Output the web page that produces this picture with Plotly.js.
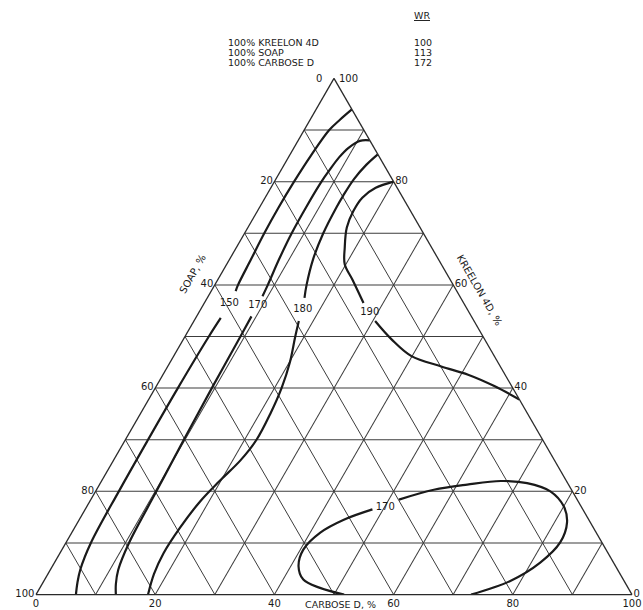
<!DOCTYPE html>
<html>
<head>
<meta charset="utf-8">
<script src="https://cdn.plot.ly/plotly-3.0.1.min.js"></script>
<style>
  html, body { margin:0; padding:0; background:#fff; }
  #chart { width:643px; height:610px; }
</style>
</head>
<body>
<div id="chart"></div>
<script>
// ---- grid every 10%, labels every 20% ----
// each edge is labelled with the component that grows along it (counter-clockwise),
// which at the edge is always 100 - the plotly axis value
const gridVals = [0, 10, 20, 30, 40, 50, 60, 70, 80, 90, 100];
const gridText = ["100", "", "80", "", "60", "", "40", "", "20", "", "0"];
// the apex pair is written by hand further down so the two labels don't collide
const leftText = ["100", "", "80", "", "60", "", "40", "", "20", "", ""];
const rightText = ["", "", "80", "", "60", "", "40", "", "20", "", "0"];

// ---- WR contours (Kreelon 4D = a, Soap = b, Carbose D = c) ----
// WR 150, above and below its label
const wr150TopK = [94.0, 92.0, 90.0, 85.0, 80.0, 75.0, 70.0, 65.0, 60.0, 58.8];
const wr150TopS = [0.0, 3.0, 5.8, 11.4, 16.7, 21.8, 26.7, 31.4, 36.1, 37.1];
const wr150TopC = [6.0, 5.0, 4.2, 3.6, 3.3, 3.2, 3.3, 3.6, 3.9, 4.1];
const wr150LowK = [53.6, 50.0, 40.0, 30.0, 20.0, 10.0, 4.9, 2.3, 0.0];
const wr150LowS = [42.2, 46.0, 56.2, 66.2, 76.1, 85.8, 90.1, 91.9, 93.3];
const wr150LowC = [4.2, 4.0, 3.8, 3.8, 3.9, 4.2, 5.0, 5.8, 6.7];

// WR 170 (left family)
const wr170TopK = [88.0, 87.9, 86.6, 84.7, 82.0, 80.0, 75.0, 70.0, 65.0, 60.0, 57.8];
const wr170TopS = [0.0, 1.7, 4.2, 6.8, 9.9, 12.1, 17.2, 22.1, 26.7, 31.1, 33.1];
const wr170TopC = [12.0, 10.4, 9.2, 8.5, 8.1, 7.9, 7.8, 7.9, 8.3, 8.9, 9.1];
const wr170LowK = [53.9, 50.0, 40.0, 30.0, 20.0, 10.0, 4.8, 2.0, 0.0];
const wr170LowS = [36.9, 40.7, 50.5, 60.2, 69.8, 79.4, 83.8, 85.6, 86.6];
const wr170LowC = [9.2, 9.3, 9.5, 9.8, 10.2, 10.6, 11.4, 12.4, 13.4];

// WR 180
const wr180TopK = [85.3, 83.3, 80.5, 77.3, 75.0, 70.0, 65.0, 60.0, 57.5];
const wr180TopS = [0.0, 2.9, 6.4, 9.8, 12.1, 16.8, 21.0, 24.6, 26.2];
const wr180TopC = [14.7, 13.8, 13.1, 12.9, 12.9, 13.2, 14.0, 15.4, 16.3];
const wr180LowK = [53.0, 50.0, 45.0, 40.0, 35.0, 30.0, 26.0, 22.0, 18.0, 13.0, 8.0, 4.0, 0.0];
const wr180LowS = [29.4, 31.5, 34.9, 38.8, 43.2, 48.0, 52.7, 58.2, 63.5, 69.3, 74.6, 78.2, 81.2];
const wr180LowC = [17.6, 18.5, 20.1, 21.2, 21.8, 22.0, 21.3, 19.8, 18.5, 17.7, 17.4, 17.8, 18.8];

// WR 190
const wr190TopK = [80.0, 78.8, 76.9, 74.3, 71.1, 67.2, 64.0, 61.0, 56.5];
const wr190TopS = [0.0, 3.6, 6.8, 9.6, 12.3, 14.6, 16.2, 16.4, 16.8];
const wr190TopC = [20.0, 17.6, 16.3, 16.1, 16.6, 18.2, 19.8, 22.6, 26.7];
const wr190LowK = [53.0, 49.4, 46.2, 44.2, 42.6, 40.4, 37.8];
const wr190LowS = [16.6, 15.6, 13.9, 9.9, 6.2, 2.9, 0.0];
const wr190LowC = [30.4, 35.0, 39.9, 45.9, 51.2, 56.7, 62.2];

// WR 170 closed loop near the Carbose corner
const wr170bRightK = [0.0, 2.6, 6.2, 10.1, 14.0, 17.1, 20.0, 21.6, 22.0, 21.3, 20.3, 18.4];
const wr170bRightS = [27.0, 19.2, 12.3, 7.0, 3.9, 2.9, 3.7, 6.8, 11.0, 17.0, 23.1, 29.9];
const wr170bRightC = [73.0, 78.2, 81.5, 82.9, 82.1, 80.0, 76.3, 71.6, 67.0, 61.7, 56.6, 51.7];
const wr170bLeftK = [16.5, 14.5, 12.0, 8.7, 5.5, 2.9, 1.3, 0.0];
const wr170bLeftS = [35.3, 41.1, 46.3, 50.8, 53.2, 53.7, 51.7, 48.3];
const wr170bLeftC = [48.2, 44.4, 41.7, 40.5, 41.3, 43.4, 47.0, 51.7];

// contour labels
const labelText = ["150", "170", "180", "190", "170"];
const labelK = [56.3, 56.0, 55.3, 54.6, 16.8];
const labelS = [39.4, 34.8, 27.6, 16.7, 33.0];
const labelC = [4.3, 9.2, 17.1, 28.7, 50.2];

// pure-component WR values (header)
const pureNames = ["100% KREELON 4D", "100% SOAP", "100% CARBOSE D"];
const pureWR = ["100", "113", "172"];

const INK = "#1a1a1a";
const FONT = "DejaVu Sans, sans-serif";

function contour(k, s, c){
  return {
    type: "scatterternary", mode: "lines",
    a: k, b: s, c: c,
    line: { color: INK, width: 2.2, shape: "spline", smoothing: 1 },
    hoverinfo: "skip"
  };
}

const traces = [
  contour(wr150TopK, wr150TopS, wr150TopC),
  contour(wr150LowK, wr150LowS, wr150LowC),
  contour(wr170TopK, wr170TopS, wr170TopC),
  contour(wr170LowK, wr170LowS, wr170LowC),
  contour(wr180TopK, wr180TopS, wr180TopC),
  contour(wr180LowK, wr180LowS, wr180LowC),
  contour(wr190TopK, wr190TopS, wr190TopC),
  contour(wr190LowK, wr190LowS, wr190LowC),
  contour(wr170bRightK, wr170bRightS, wr170bRightC),
  contour(wr170bLeftK, wr170bLeftS, wr170bLeftC),
  {
    type: "scatterternary", mode: "text",
    a: labelK, b: labelS, c: labelC,
    text: labelText, textposition: "middle center",
    textfont: { family: FONT, size: 10, color: INK },
    hoverinfo: "skip"
  }
];

function axisStyle(text){
  return {
    tickmode: "array", tickvals: gridVals, ticktext: text,
    ticks: "", showticklabels: true,
    tickfont: { family: FONT, size: 10, color: INK },
    showgrid: true, gridcolor: "#3c3c3c", gridwidth: 1,
    showline: true, linecolor: "#2a2a2a", linewidth: 1.3,
    title: { text: "" }
  };
}

// page pixel -> paper fraction (plot area is 36..632 x 78..595)
function px(x){ return (x - 36) / 596; }
function py(y){ return (595 - y) / 517; }

function note(text, x, y, opts){
  return Object.assign({
    text: text, xref: "paper", yref: "paper", x: px(x), y: py(y),
    showarrow: false, xanchor: "left", yanchor: "middle",
    font: { family: FONT, size: 9.5, color: INK }
  }, opts || {});
}

const annotations = [];
pureNames.forEach((n, i) => annotations.push(note(n, 226, 42 + i * 10.5)));
pureWR.forEach((v, i) => annotations.push(note(v, 412, 42 + i * 10.5)));
annotations.push(note('<span style="text-decoration:underline">WR</span>', 412, 16));
annotations.push(note("0", 324, 78, { xanchor: "right", font: { family: FONT, size: 10, color: INK } }));
annotations.push(note("100", 337, 78, { font: { family: FONT, size: 10, color: INK } }));
annotations.push(note("SOAP, %", 192, 274, { xanchor: "center", textangle: -60, font: { family: FONT, size: 10, color: INK } }));
annotations.push(note("KREELON 4D, %", 480, 290, { xanchor: "center", textangle: 60, font: { family: FONT, size: 10, color: INK } }));
annotations.push(note("CARBOSE D, %", 340, 604, { xanchor: "center", font: { family: FONT, size: 9.5, color: INK } }));

const layout = {
  width: 643, height: 610,
  margin: { l: 36, r: 11, t: 78, b: 15 },
  paper_bgcolor: "#fff",
  showlegend: false,
  font: { family: FONT, size: 10, color: INK },
  ternary: {
    sum: 100,
    bgcolor: "#fff",
    domain: { x: [0, 1], y: [0, 1] },
    aaxis: axisStyle(leftText),
    baxis: axisStyle(gridText),
    caxis: axisStyle(rightText)
  },
  annotations: annotations
};

Plotly.newPlot("chart", traces, layout, { displayModeBar: false, staticPlot: true });
</script>
</body>
</html>
